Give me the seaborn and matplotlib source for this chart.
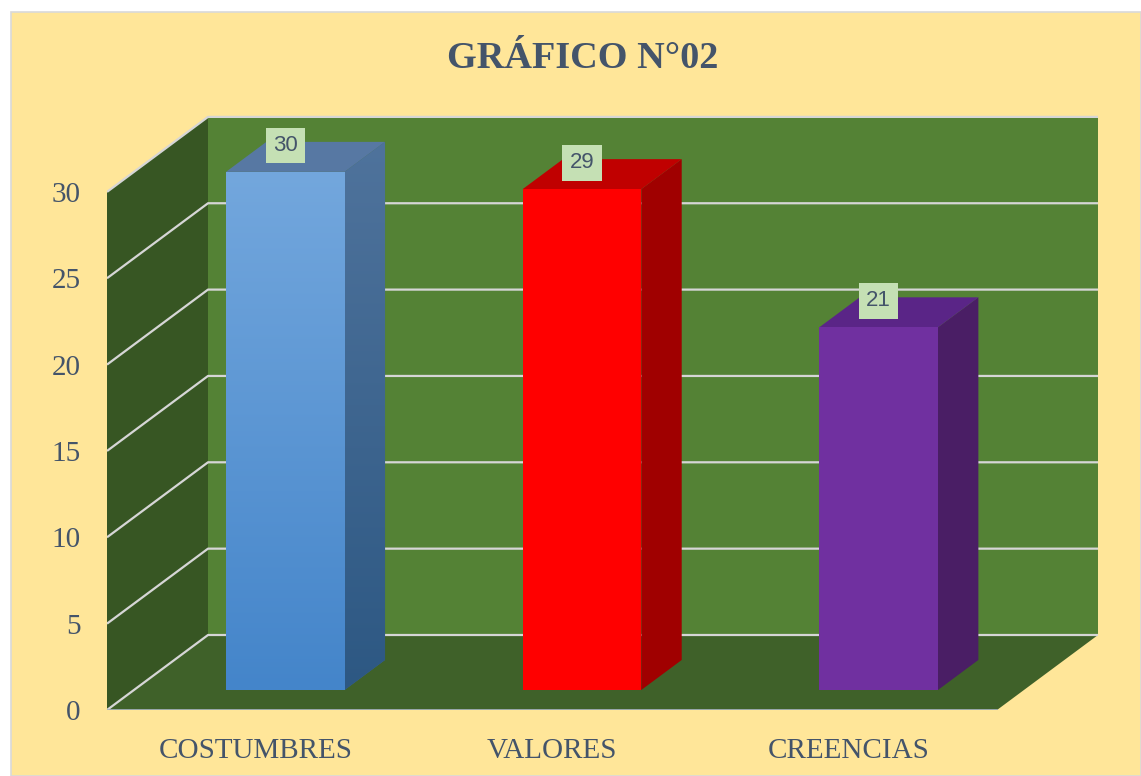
import numpy as np
import matplotlib
matplotlib.use("Agg")
import matplotlib.pyplot as plt
from matplotlib.patches import Polygon, Rectangle
import seaborn as sns

# chart data
categories = ["COSTUMBRES", "VALORES", "CREENCIAS"]
values = [30, 29, 21]
bar_colors = ["#5B9BD5", "#FF0000", "#7030A0"]
top_colors = ["#5778A3", "#C00000", "#5A2587"]
side_colors = ["#3F6690", "#A00000", "#4A1E65"]
y_ticks = [0, 5, 10, 15, 20, 25, 30]

W, H = 1141, 776
PX_X = 296.67  # pixels per category unit
PX_Y = 17.27   # pixels per value unit
DX = 101 / PX_X  # depth of the box, in data units
DY = 75 / PX_Y
F1, F2 = 0.267, 0.667  # front / back depth of the bars
XOFF = 3 / PX_X
TEXT = "#44546A"

plt.rcParams["font.family"] = ["Liberation Serif", "DejaVu Serif"]

fig = plt.figure(figsize=(W / 100, H / 100), dpi=100, facecolor="white")
fig.patches.append(Rectangle((11 / W, 0), 1 - 11 / W, 1 - 12 / H, transform=fig.transFigure,
                             facecolor="#FFE699", edgecolor="#D9D9D9", lw=1.2, zorder=-5))

ymax = 36
ax = fig.add_axes([107 / W, 66 / H, (3 + DX) * PX_X / W, ymax * PX_Y / H])
ax.set_facecolor("none")

sns.barplot(x=categories, y=values, hue=categories, palette=bar_colors, width=0.4,
            legend=False, ax=ax, saturation=1, zorder=4)

ax.set_xlim(-0.5, 2.5 + DX)
ax.set_ylim(0, ymax)
for s in ax.spines.values():
    s.set_visible(False)

# walls and floor
back = "#548235"
side = "#375623"
floor = "#3F6129"
x0, x1 = -0.5, 2.5
ax.add_patch(Polygon([(x0 + DX, DY), (x1 + DX, DY), (x1 + DX, 30 + DY), (x0 + DX, 30 + DY)],
                     facecolor=back, edgecolor="none", zorder=1))
ax.add_patch(Polygon([(x0, 0), (x0, 30), (x0 + DX, 30 + DY), (x0 + DX, DY)],
                     facecolor=side, edgecolor="none", zorder=1))
ax.add_patch(Polygon([(x0, 0), (x1, 0), (x1 + DX, DY), (x0 + DX, DY)],
                     facecolor=floor, edgecolor="none", zorder=1))
grid = "#D6D6D6"
for v in y_ticks:
    ax.plot([x0, x0 + DX, x1 + DX], [v, v + DY, v + DY], color=grid, lw=1.6, zorder=2,
            solid_capstyle="butt")
ax.plot([x0, x1], [0, 0], color="#A9B4C2", lw=1.2, zorder=2)

# 3D faces of the bars
for i, p in enumerate(ax.patches[:3]):
    p.set_x(p.get_x() + F1 * DX + XOFF)
    p.set_y(F1 * DY)
    p.set_edgecolor("none")
    bx0 = p.get_x()
    bx1 = bx0 + p.get_width()
    by0 = p.get_y()
    by1 = by0 + p.get_height()
    ddx, ddy = (F2 - F1) * DX, (F2 - F1) * DY
    side_poly = Polygon([(bx1, by0), (bx1 + ddx, by0 + ddy), (bx1 + ddx, by1 + ddy), (bx1, by1)],
                        facecolor=side_colors[i], edgecolor="none", zorder=3)
    top_poly = Polygon([(bx0, by1), (bx1, by1), (bx1 + ddx, by1 + ddy), (bx0 + ddx, by1 + ddy)],
                       facecolor=top_colors[i], edgecolor="none", zorder=3)
    ax.add_patch(side_poly)
    ax.add_patch(top_poly)
    if i == 0:
        # Excel-like gradient on the blue bar
        grad = np.linspace(0, 1, 256).reshape(-1, 1)
        cm_front = matplotlib.colors.LinearSegmentedColormap.from_list("f", ["#4485CA", "#73A7DD"])
        cm_side = matplotlib.colors.LinearSegmentedColormap.from_list("s", ["#2D5883", "#4F739C"])
        im = ax.imshow(grad, cmap=cm_front, origin="lower", aspect="auto",
                       extent=[bx0, bx1, by0, by1], zorder=4.5)
        im.set_clip_path(p)
        im2 = ax.imshow(grad, cmap=cm_side, origin="lower", aspect="auto",
                        extent=[bx1, bx1 + ddx, by0, by1 + ddy], zorder=3.5)
        im2.set_clip_path(side_poly)
    ax.annotate(str(values[i]), xy=(bx0 + p.get_width() / 2, by1), xytext=(0, 19),
                textcoords="offset points", ha="center", va="center", fontsize=16,
                family=["Liberation Sans", "DejaVu Sans"], color=TEXT, zorder=6,
                bbox=dict(boxstyle="square,pad=0.33", facecolor="#C5E0B4", edgecolor="none"))

ax.set_xlim(-0.5, 2.5 + DX)
ax.set_ylim(0, ymax)

ax.set_yticks(y_ticks)
ax.set_yticklabels([str(v) for v in y_ticks])
ax.set_xticks(range(3))
ax.set_xticklabels(categories)
ax.tick_params(axis="y", length=0, pad=19, labelsize=21, labelcolor=TEXT)
ax.tick_params(axis="x", length=0, pad=20, labelsize=21, labelcolor=TEXT)
ax.set_xlabel("")
ax.set_ylabel("")

fig.text(583 / W, 1 - 58 / H, "GRÁFICO N°02", ha="center", va="center", fontsize=27.5,
         fontweight="bold", color=TEXT)

fig.savefig("out.png", dpi=100, facecolor=fig.get_facecolor())
